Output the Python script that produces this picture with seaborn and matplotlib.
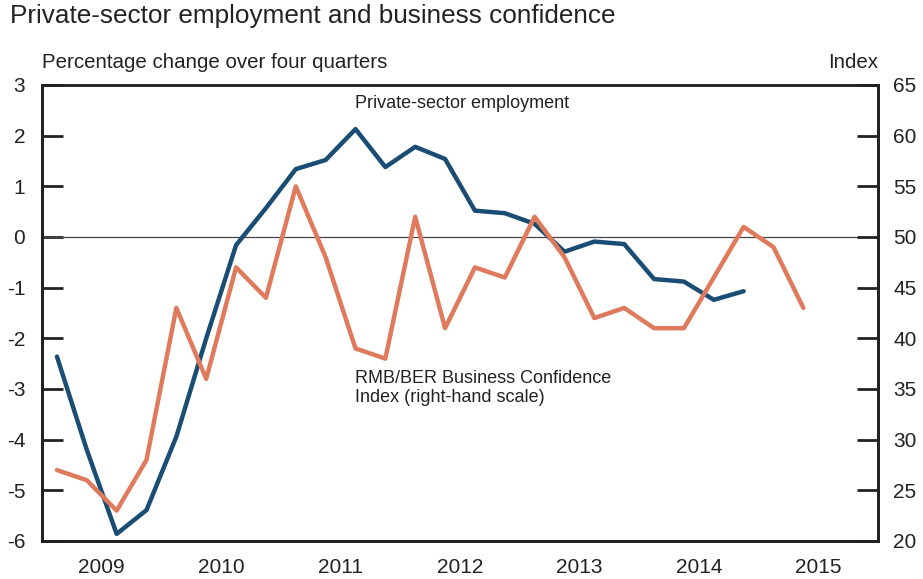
import numpy as np
import pandas as pd
import seaborn as sns
import matplotlib.pyplot as plt

# quarterly data, 2009Q1 onwards
quarters_emp = ["2009Q1", "2009Q2", "2009Q3", "2009Q4", "2010Q1", "2010Q2", "2010Q3", "2010Q4",
                "2011Q1", "2011Q2", "2011Q3", "2011Q4", "2012Q1", "2012Q2", "2012Q3", "2012Q4",
                "2013Q1", "2013Q2", "2013Q3", "2013Q4", "2014Q1", "2014Q2", "2014Q3", "2014Q4"]
employment = [-2.36, -4.2, -5.86, -5.39, -3.94, -2.0, -0.16, 0.57,
              1.34, 1.52, 2.13, 1.38, 1.78, 1.54, 0.52, 0.47,
              0.26, -0.29, -0.09, -0.14, -0.83, -0.88, -1.24, -1.07]

quarters_bci = quarters_emp + ["2015Q1", "2015Q2"]
bci = [27, 26, 23, 28, 43, 36, 47, 44,
       55, 48, 39, 38, 52, 41, 47, 46,
       52, 48, 42, 43, 41, 41, 46, 51,
       49, 43]

years = [2009, 2010, 2011, 2012, 2013, 2014, 2015]
left_ticks = [3, 2, 1, 0, -1, -2, -3, -4, -5, -6]
right_ticks = [65, 60, 55, 50, 45, 40, 35, 30, 25, 20]


def to_x(q):
    # place each quarter in the middle of its slot
    return int(q[:4]) + (int(q[-1]) - 0.5) / 4


emp_df = pd.DataFrame({"x": [to_x(q) for q in quarters_emp], "value": employment})
bci_df = pd.DataFrame({"x": [to_x(q) for q in quarters_bci], "value": bci})

blue = "#1a4d74"
orange = "#e07a5c"
txt = "#222222"

sns.set_style("white")
plt.rcParams["font.family"] = ["Liberation Sans", "DejaVu Sans"]

fig = plt.figure(figsize=(9.23, 5.79), dpi=100)
ax = fig.add_axes([42 / 923, 1 - 541 / 579, 836 / 923, 456 / 579])
ax2 = ax.twinx()

sns.lineplot(data=emp_df, x="x", y="value", ax=ax, color=blue, lw=3.2, zorder=3)
sns.lineplot(data=bci_df, x="x", y="value", ax=ax2, color=orange, lw=3.2, zorder=3)
ax.axhline(0, color="#444444", lw=0.9, zorder=1)

ax.set_xlim(2009, 2016)
ax.set_ylim(-6, 3)
ax2.set_ylim(20, 65)

ax.set_xticks(range(2010, 2016))
ax.set_xticks([y + 0.5 for y in years], minor=True)
ax.set_xticklabels([])
ax.set_xticklabels([str(y) for y in years], minor=True)
ax.tick_params(axis="x", which="major", direction="in", length=10, width=1.2, color=txt)
ax.tick_params(axis="x", which="minor", length=0, pad=12, labelsize=15, labelcolor=txt)

ax.set_yticks(left_ticks)
ax.set_yticklabels([str(t) for t in left_ticks])
ax.tick_params(axis="y", direction="in", length=15, width=2, color=txt, pad=12,
               labelsize=15, labelcolor=txt)
ax2.set_yticks(right_ticks)
ax2.tick_params(axis="y", direction="in", length=15, width=2, color=txt, pad=11,
                labelsize=15, labelcolor=txt)

for a in (ax, ax2):
    a.set_xlabel("")
    a.set_ylabel("")
    for s in a.spines.values():
        s.set_color(txt)
        s.set_linewidth(2)
    a.spines["top"].set_linewidth(1.8)

fig.text(10 / 923, 1 - 16 / 579, "Private-sector employment and business confidence",
         fontsize=18.8, color=txt, va="center", ha="left")
fig.text(42 / 923, 1 - 62 / 579, "Percentage change over four quarters",
         fontsize=14.8, color=txt, va="center", ha="left")
fig.text(878 / 923, 1 - 62 / 579, "Index",
         fontsize=14.8, color=txt, va="center", ha="right")

ax.text(2011.62, 2.63, "Private-sector employment", fontsize=13, color=txt,
        va="center", ha="left")
ax.text(2011.62, -2.98, "RMB/BER Business Confidence\nIndex (right-hand scale)",
        fontsize=13, color=txt, va="center", ha="left", linespacing=1.2)

fig.savefig("out.png", dpi=100)
